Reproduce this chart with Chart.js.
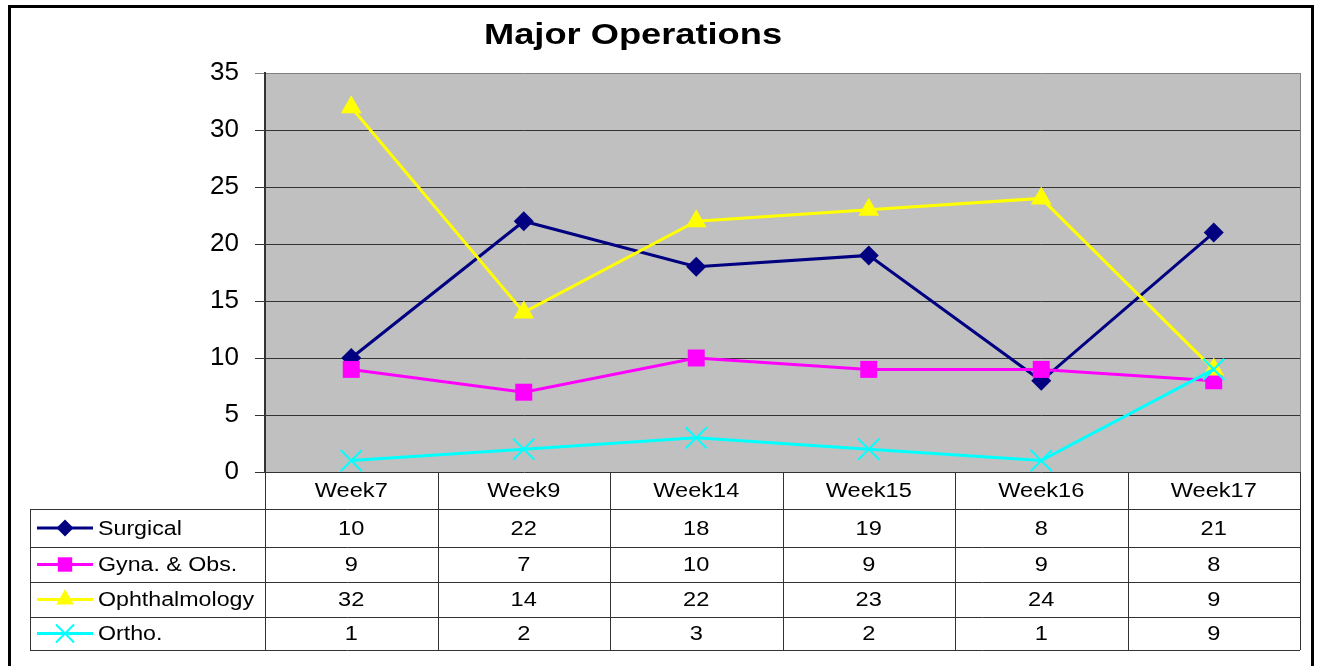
<!DOCTYPE html>
<html>
<head>
<meta charset="utf-8">
<title>Major Operations</title>
<script src="https://cdn.jsdelivr.net/npm/chart.js@4.4.1/dist/chart.umd.min.js"></script>
<style>
  html, body { margin: 0; padding: 0; background: #fff; }
  #wrap { width: 1318px; height: 666px; position: relative; }
</style>
</head>
<body>
<div id="wrap"><canvas id="chart"></canvas></div>
<script>
const weeks = ['Week7', 'Week9', 'Week14', 'Week15', 'Week16', 'Week17'];
const surgical = [10, 22, 18, 19, 8, 21];
const gynaObs = [9, 7, 10, 9, 9, 8];
const ophthalmology = [32, 14, 22, 23, 24, 9];
const ortho = [1, 2, 3, 2, 1, 9];
const yTicks = [0, 5, 10, 15, 20, 25, 30, 35];

const FONT = "'Liberation Sans', Arial, sans-serif";

const series = [
    { label: 'Surgical', data: surgical, color: '#000080', style: 'rectRot', radius: 10 },
    { label: 'Gyna. & Obs.', data: gynaObs, color: '#FF00FF', style: 'rect', radius: 12 },
    { label: 'Ophthalmology', data: ophthalmology, color: '#FFFF00', style: 'triangle', radius: 12 },
    { label: 'Ortho.', data: ortho, color: '#00FFFF', style: 'crossRot', radius: 15 }
];

// stretched text, the reference renders its fonts wider than normal
function wideText(ctx, text, x, y, scaleX, align) {
    ctx.save();
    ctx.translate(x, y);
    ctx.scale(scaleX, 1);
    ctx.textAlign = align;
    ctx.fillText(text, 0, 0);
    ctx.restore();
}

const frame = {
    id: 'frame',
    beforeDraw(chart) {
        const ctx = chart.ctx;
        const a = chart.chartArea;
        ctx.save();
        ctx.fillStyle = '#fff';
        ctx.fillRect(0, 0, chart.width, chart.height);
        ctx.fillStyle = '#C0C0C0';
        ctx.fillRect(a.left, a.top, a.right - a.left, a.bottom - a.top);
        ctx.strokeStyle = '#000';
        ctx.lineWidth = 3;
        ctx.strokeRect(9.5, 6.5, 1303, 700);
        ctx.restore();
    },
    afterDraw(chart) {
        const ctx = chart.ctx;
        const a = chart.chartArea;
        const x = chart.scales.x;
        const colW = (a.right - a.left) / weeks.length;
        const rows = [a.bottom, 509, 547, 582, 617, 650];
        const tableLeft = 30;

        ctx.save();
        // right edge of plot area
        ctx.strokeStyle = '#808080';
        ctx.lineWidth = 1;
        ctx.beginPath();
        ctx.moveTo(a.right + 0.5, a.top);
        ctx.lineTo(a.right + 0.5, a.bottom);
        ctx.stroke();

        // title
        ctx.fillStyle = '#000';
        ctx.font = 'bold 29px ' + FONT;
        ctx.textBaseline = 'alphabetic';
        wideText(ctx, 'Major Operations', 633, 44, 1.25, 'center');

        // data table grid
        ctx.strokeStyle = '#333';
        ctx.lineWidth = 1;
        ctx.beginPath();
        for (let r = 1; r < rows.length; r++) {
            ctx.moveTo(tableLeft, rows[r] + 0.5);
            ctx.lineTo(a.right, rows[r] + 0.5);
        }
        ctx.moveTo(tableLeft + 0.5, rows[1]);
        ctx.lineTo(tableLeft + 0.5, rows[rows.length - 1]);
        for (let i = 0; i <= weeks.length; i++) {
            const vx = Math.round(a.left + i * colW) + 0.5;
            ctx.moveTo(vx, a.bottom);
            ctx.lineTo(vx, rows[rows.length - 1]);
        }
        ctx.stroke();

        // category row
        ctx.font = '20px ' + FONT;
        ctx.textBaseline = 'middle';
        ctx.fillStyle = '#000';
        weeks.forEach((w, i) => {
            wideText(ctx, w, x.getPixelForValue(i), (rows[0] + rows[1]) / 2 + 1, 1.18, 'center');
        });

        // series rows
        series.forEach((s, r) => {
            const cy = (rows[r + 1] + rows[r + 2]) / 2;
            ctx.strokeStyle = s.color;
            ctx.lineWidth = 3;
            ctx.beginPath();
            ctx.moveTo(37, cy);
            ctx.lineTo(93, cy);
            ctx.stroke();
            ctx.fillStyle = s.color;
            ctx.strokeStyle = s.color;
            ctx.lineWidth = 2;
            Chart.helpers.drawPoint(ctx, {
                pointStyle: s.style,
                radius: s.radius * 0.85,
                rotation: 0,
                borderWidth: s.style === 'crossRot' ? 2 : 0
            }, 65, cy);

            ctx.fillStyle = '#000';
            wideText(ctx, s.label, 98, cy + 1, 1.16, 'left');
            s.data.forEach((v, i) => {
                wideText(ctx, String(v), x.getPixelForValue(i), cy + 1, 1.18, 'center');
            });
        });
        ctx.restore();
    }
};

const ctx = document.getElementById('chart').getContext('2d');
new Chart(ctx, {
    type: 'line',
    data: {
        labels: weeks,
        datasets: series.map((s, i) => ({
            label: s.label,
            data: s.data,
            borderColor: s.color,
            backgroundColor: s.color,
            borderWidth: 3,
            tension: 0,
            fill: false,
            pointStyle: s.style,
            pointRadius: s.radius,
            pointBackgroundColor: s.color,
            pointBorderColor: s.color,
            pointBorderWidth: s.style === 'crossRot' ? 2 : 0,
            order: series.length - i
        }))
    },
    options: {
        responsive: true,
        maintainAspectRatio: false,
        animation: false,
        layout: { padding: { top: 73, left: 0, right: 18, bottom: 194 } },
        plugins: {
            legend: { display: false },
            title: { display: false },
            tooltip: { enabled: false }
        },
        scales: {
            x: {
                type: 'category',
                offset: true,
                display: false
            },
            y: {
                min: 0,
                max: 35,
                afterFit(scale) { scale.width = 265; },
                afterBuildTicks(scale) { scale.ticks = yTicks.map(v => ({ value: v })); },
                ticks: {
                    color: '#000',
                    padding: 16,
                    font: { family: FONT, size: 26 }
                },
                grid: {
                    color: c => (c.tick && c.tick.value === 35) ? '#808080' : '#333',
                    lineWidth: 1,
                    tickLength: 10,
                    drawTicks: true
                },
                border: { display: true, color: '#333', width: 2 }
            }
        }
    },
    plugins: [frame]
});
</script>
</body>
</html>
